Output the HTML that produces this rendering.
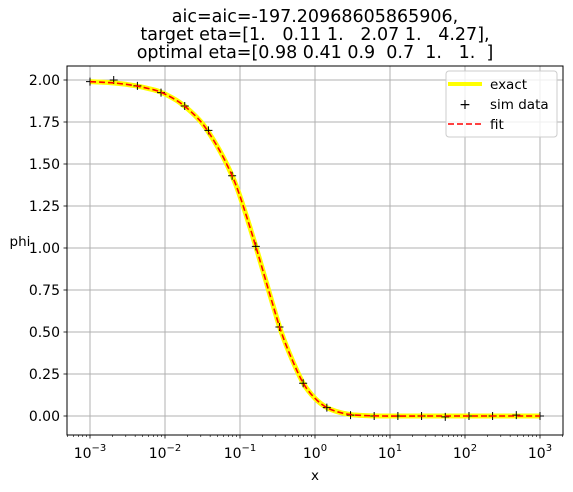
<!DOCTYPE html>
<html><head><meta charset="utf-8"><style>
body{margin:0;background:#fff;}
svg{display:block;font-family:"DejaVu Sans","Liberation Sans",sans-serif;}
</style></head><body>
<svg id="chart" width="573" height="492" viewBox="0 0 573 492">
<g font-size="17.5" text-anchor="middle" fill="#000" style="white-space:pre">
<text x="315" y="22">aic=aic=-197.20968605865906,</text>
<text x="315" y="40" xml:space="preserve">target eta=[1.   0.11 1.   2.07 1.   4.27],</text>
<text x="315" y="58" xml:space="preserve">optimal eta=[0.98 0.41 0.9  0.7  1.   1.  ]</text>
</g>
<g id="grid"></g>
<g id="series"></g>
<rect x="67" y="66" width="496" height="369" fill="none" stroke="#000" stroke-width="1"/>
<g id="axes" fill="#000"></g>
<text x="315" y="480" font-size="13.5" text-anchor="middle">x</text>
<text x="20" y="246" font-size="13.5" text-anchor="middle">phi</text>
<g>
<rect x="446" y="71" width="111" height="66" rx="3" fill="#fff" fill-opacity="0.8" stroke="#ccc"/>
<line x1="448" y1="84" x2="482" y2="84" stroke="#ffff00" stroke-width="4"/>
<text x="490" y="89" font-size="13.5">exact</text>
<text x="465" y="109" font-size="14" text-anchor="middle">+</text>
<text x="490" y="109" font-size="13.5">sim data</text>
<line x1="448" y1="124" x2="482" y2="124" stroke="#ff0000" stroke-width="1.5" stroke-dasharray="6,3"/>
<text x="490" y="129" font-size="13.5">fit</text>
</g>
</svg>
<script>
const simExp=[-3,-2.684,-2.368,-2.053,-1.737,-1.421,-1.105,-0.789,-0.474,-0.158,0.158,0.474,0.789,1.105,1.421,1.737,2.053,2.368,2.684,3];
const simPhi=[1.99,2.0,1.965,1.925,1.845,1.70,1.43,1.01,0.53,0.195,0.05,0.005,0.0,0.0,0.0,-0.005,0.0,0.0,0.005,0.0];
const curveExp=[-3,-2.85,-2.7,-2.55,-2.4,-2.25,-2.1,-1.95,-1.8,-1.65,-1.5,-1.35,-1.2,-1.05,-0.9,-0.75,-0.6,-0.45,-0.3,-0.15,0,0.15,0.3,0.45,0.6,0.9,1.5,2,3];
const curvePhi=[1.99,1.987,1.983,1.976,1.966,1.952,1.935,1.905,1.865,1.81,1.74,1.64,1.52,1.37,1.17,0.95,0.72,0.50,0.33,0.19,0.105,0.052,0.025,0.01,0.004,0,0,0,0];
const fitPhi=[1.99,1.987,1.983,1.976,1.966,1.952,1.935,1.905,1.865,1.81,1.74,1.64,1.52,1.37,1.17,0.95,0.72,0.50,0.33,0.19,0.105,0.052,0.025,0.01,0.004,0,0,0,0];
const xTickExp=[-3,-2,-1,0,1,2,3];
const yTicks=[0,0.25,0.5,0.75,1.0,1.25,1.5,1.75,2.0];
const yTickLabels=["0.00","0.25","0.50","0.75","1.00","1.25","1.50","1.75","2.00"];

const L=67,R=563,T=66,B=435;
const xs=e=>90+(e+3)*75;
const ys=v=>416-v*168;
const NS="http://www.w3.org/2000/svg";
function mk(tag,attrs,parent){const el=document.createElementNS(NS,tag);for(const k in attrs)el.setAttribute(k,attrs[k]);parent.appendChild(el);return el;}
const grid=document.getElementById('grid'),axes=document.getElementById('axes'),series=document.getElementById('series');
xTickExp.forEach(e=>{
 const x=xs(e);
 const g=mk('line',{x1:x,x2:x,y1:T,y2:B,stroke:'#b0b0b0','stroke-width':1},grid);
 
 
 const t=mk('line',{x1:x,x2:x,y1:B,y2:B+3.5,stroke:'#000','stroke-width':0.8},axes);
 
 
 const lb=mk('text',{x:x,y:B+23,'text-anchor':'middle','font-size':14},axes);
 
 
 lb.textContent='10';
 const sp=mk('tspan',{dy:-7,'font-size':10},lb);sp.textContent=String(e).replace('-','\u2212');
});
for(let d=-4;d<=3;d++){for(let m=2;m<=9;m++){const e=d+Math.log10(m);const x=xs(e);if(x<L||x>R)continue;
 const t=mk('line',{x1:x,x2:x,y1:B,y2:B+2,stroke:'#000','stroke-width':0.6},axes);
 
 }}
yTicks.forEach((v,i)=>{
 const y=ys(v);
 const g=mk('line',{x1:L,x2:R,y1:y,y2:y,stroke:'#b0b0b0','stroke-width':1},grid);
 
 
 const t=mk('line',{x1:L-3.5,x2:L,y1:y,y2:y,stroke:'#000','stroke-width':0.8},axes);
 
 
 const lb=mk('text',{x:L-7,y:y+5,'text-anchor':'end','font-size':14},axes);
 
 
 lb.textContent=yTickLabels[i];
});
function smooth(ex,vals){
 const p=ex.map((e,i)=>[xs(e),ys(vals[i])]);
 let d='M'+p[0][0]+','+p[0][1];
 for(let i=0;i<p.length-1;i++){
  const p0=p[i-1]||p[i],p1=p[i],p2=p[i+1],p3=p[i+2]||p2;
  const c1=[p1[0]+(p2[0]-p0[0])/6,p1[1]+(p2[1]-p0[1])/6];
  const c2=[p2[0]-(p3[0]-p1[0])/6,p2[1]-(p3[1]-p1[1])/6];
  d+=' C'+c1+' '+c2+' '+p2;
 }
 return d;
}
const ex=mk('path',{d:smooth(curveExp,curvePhi),fill:'none',stroke:'#ffff00','stroke-width':5},series);


simExp.forEach((e,i)=>{
 const x=xs(e),y=ys(simPhi[i]);
 const m=mk('path',{d:`M${x-4},${y}H${x+4}M${x},${y-4}V${y+4}`,stroke:'#000','stroke-width':1},series);
 
 
});
const fit=mk('path',{d:smooth(curveExp,fitPhi),fill:'none',stroke:'#ff0000','stroke-width':1.6,'stroke-dasharray':'6,3'},series);


</script>
</body></html>
